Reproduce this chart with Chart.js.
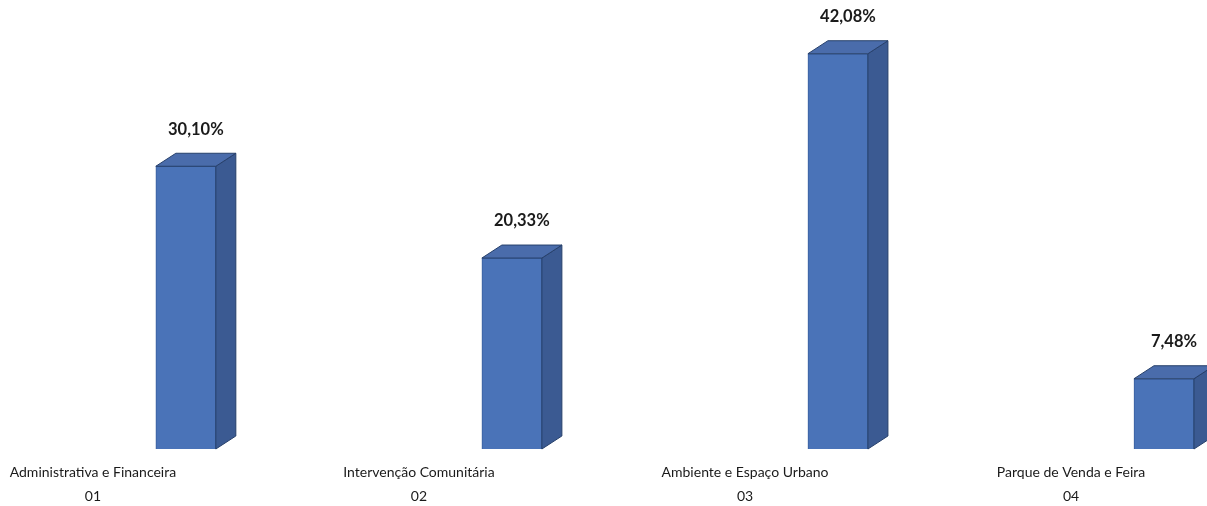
<!DOCTYPE html>
<html lang="pt">
    <head>
        <meta charset="UTF-8">
        <title>Distribuição por área</title>
        <style>
            html, body { margin: 0; padding: 0; background: #ffffff; }
            .grafico { width: 1207px; height: 506px; }
        </style>
    </head>
    <body>
        <div class="grafico">
            <canvas id="graficoAreas"></canvas>
        </div>

        <script src="https://cdn.jsdelivr.net/npm/chart.js"></script>
        <script>
            const categorias = ['Administrativa e Financeira', 'Intervenção Comunitária', 'Ambiente e Espaço Urbano', 'Parque de Venda e Feira'];
            const codigos = ['01', '02', '03', '04'];
            const percentagens = [30.10, 20.33, 42.08, 7.48];
            const rotulos = ['30,10%', '20,33%', '42,08%', '7,48%'];

            const deslocBarra = 0.285; // barras ficam a direita do rotulo
            const fundoX = 20, fundoY = 13; // profundidade do efeito 3D

            const efeito3D = {
                id: 'efeito3D',
                afterDatasetsDraw(chart) {
                    const ctx = chart.ctx;
                    const meta = chart.getDatasetMeta(0);
                    ctx.save();
                    meta.data.forEach((bar, i) => {
                        const esq = bar.x - bar.width / 2;
                        const dir = bar.x + bar.width / 2;
                        const topo = bar.y;
                        const base = bar.base;

                        // lado direito
                        ctx.beginPath();
                        ctx.moveTo(dir, topo);
                        ctx.lineTo(dir + fundoX, topo - fundoY);
                        ctx.lineTo(dir + fundoX, base - fundoY);
                        ctx.lineTo(dir, base);
                        ctx.closePath();
                        ctx.fillStyle = '#3b5a92';
                        ctx.fill();
                        ctx.strokeStyle = '#27406b';
                        ctx.lineWidth = 1;
                        ctx.stroke();

                        // topo
                        ctx.beginPath();
                        ctx.moveTo(esq, topo);
                        ctx.lineTo(esq + fundoX, topo - fundoY);
                        ctx.lineTo(dir + fundoX, topo - fundoY);
                        ctx.lineTo(dir, topo);
                        ctx.closePath();
                        ctx.fillStyle = '#4a6cab';
                        ctx.fill();
                        ctx.stroke();

                        // rotulo do valor
                        ctx.fillStyle = '#1a1a1a';
                        ctx.font = 'bold 16.5px Lato';
                        ctx.textAlign = 'center';
                        ctx.textBaseline = 'middle';
                        ctx.fillText(rotulos[i], bar.x + fundoX / 2, topo - 37);
                    });
                    ctx.restore();
                }
            };

            Chart.defaults.font.family = 'Lato';
            Chart.defaults.color = '#1a1a1a';

            new Chart(document.getElementById('graficoAreas'), {
                type: 'bar',
                data: {
                    datasets: [{
                        data: percentagens.map((v, i) => ({ x: i + deslocBarra, y: v })),
                        backgroundColor: '#4a73b8',
                        borderColor: '#3a5f9e',
                        borderWidth: 1,
                        barThickness: 60
                    }]
                },
                options: {
                    responsive: true,
                    maintainAspectRatio: false,
                    animation: false,
                    layout: { padding: 0 },
                    plugins: {
                        legend: { display: false },
                        tooltip: { enabled: false }
                    },
                    scales: {
                        x: {
                            type: 'linear',
                            offset: false,
                            min: -0.285,
                            max: 3.417,
                            afterBuildTicks: (scale) => {
                                scale.ticks = codigos.map((c, i) => ({ value: i }));
                            },
                            afterFit: (scale) => { scale.height = 57; },
                            grid: { display: false },
                            border: { display: false },
                            ticks: {
                                autoSkip: false,
                                maxRotation: 0,
                                padding: 3,
                                font: { size: 14, lineHeight: 1.72 },
                                callback: (v) => [categorias[v], codigos[v]]
                            }
                        },
                        y: {
                            display: false,
                            min: 0,
                            max: 47.8
                        }
                    }
                },
                plugins: [efeito3D]
            });
        </script>
    </body>
</html>
